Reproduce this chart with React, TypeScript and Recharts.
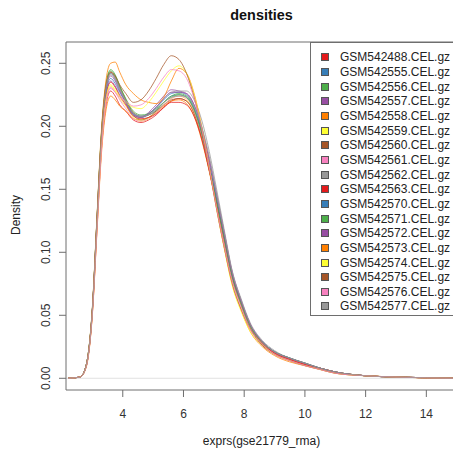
import { CartesianGrid, Legend, Line, LineChart, ReferenceLine, XAxis, YAxis } from "recharts";

const xs = [2.2, 2.6, 2.8, 3.0, 3.15, 3.3, 3.45, 3.6, 3.75, 3.9, 4.1, 4.35, 4.6, 4.85, 5.1, 5.35, 5.6, 5.85, 6.1, 6.35, 6.6, 6.85, 7.1, 7.35, 7.6, 7.9, 8.2, 8.6, 9.0, 9.5, 10, 10.5, 11, 12, 13, 14, 15];

const sampleNames = [
  "GSM542488.CEL.gz", "GSM542555.CEL.gz", "GSM542556.CEL.gz", "GSM542557.CEL.gz", "GSM542558.CEL.gz", "GSM542559.CEL.gz",
  "GSM542560.CEL.gz", "GSM542561.CEL.gz", "GSM542562.CEL.gz", "GSM542563.CEL.gz", "GSM542570.CEL.gz", "GSM542571.CEL.gz",
  "GSM542572.CEL.gz", "GSM542573.CEL.gz", "GSM542574.CEL.gz", "GSM542575.CEL.gz", "GSM542576.CEL.gz", "GSM542577.CEL.gz",
];

const palette = ["#E41A1C", "#377EB8", "#4DAF4A", "#984EA3", "#FF7F00", "#FFFF33", "#A65628", "#F781BF", "#999999"];

const d488 = [0, .001, .010, .052, .118, .182, .217, .228, .224, .217, .212, .205, .203, .205, .209, .215, .220, .222, .220, .211, .192, .167, .139, .110, .082, .060, .041, .028, .020, .015, .011, .008, .005, .002, .001, .0004, 0];
const d555 = [0, .001, .011, .055, .125, .193, .231, .242, .238, .230, .220, .210, .207, .209, .213, .219, .224, .225, .223, .213, .194, .168, .140, .111, .082, .060, .042, .029, .021, .016, .012, .008, .005, .002, .001, .0004, 0];
const d556 = [0, .001, .011, .056, .127, .196, .234, .245, .241, .232, .221, .209, .205, .207, .212, .219, .224, .226, .224, .214, .195, .169, .140, .111, .082, .060, .042, .029, .021, .016, .012, .008, .005, .002, .001, .0004, 0];
const d557 = [0, .001, .010, .054, .122, .188, .225, .236, .232, .225, .218, .209, .207, .211, .217, .224, .229, .228, .226, .217, .199, .174, .145, .115, .085, .062, .043, .029, .021, .016, .012, .008, .005, .002, .001, .0004, 0];
const d558 = [0, .001, .009, .051, .116, .179, .213, .224, .221, .216, .212, .206, .205, .207, .211, .216, .220, .221, .218, .208, .189, .164, .136, .107, .079, .058, .040, .027, .020, .015, .011, .008, .005, .002, .001, .0004, 0];
const d559 = [0, .001, .010, .053, .120, .185, .221, .232, .228, .222, .216, .207, .204, .206, .211, .217, .222, .224, .221, .211, .191, .165, .136, .107, .079, .058, .041, .028, .021, .016, .012, .008, .005, .002, .001, .0004, 0];
const d560 = [0, .001, .011, .055, .126, .194, .232, .243, .239, .231, .221, .211, .208, .209, .212, .217, .221, .222, .220, .210, .191, .165, .137, .108, .080, .058, .040, .027, .020, .015, .011, .008, .005, .002, .001, .0004, 0];
const d561 = [0, .001, .010, .053, .119, .184, .220, .231, .227, .221, .214, .206, .204, .206, .211, .217, .222, .224, .222, .212, .192, .166, .137, .108, .080, .059, .041, .028, .020, .015, .011, .008, .005, .002, .001, .0004, 0];
const d562 = [0, .001, .010, .055, .125, .192, .230, .241, .237, .229, .219, .209, .207, .210, .215, .222, .227, .228, .228, .221, .205, .180, .149, .117, .086, .063, .044, .030, .022, .016, .012, .008, .005, .002, .001, .0004, 0];
const d563 = [0, .001, .010, .054, .122, .188, .224, .235, .231, .224, .217, .208, .206, .207, .210, .215, .219, .219, .217, .208, .190, .165, .138, .110, .082, .060, .042, .028, .020, .015, .011, .008, .005, .002, .001, .0004, 0];
const d570 = [0, .001, .010, .054, .123, .190, .227, .238, .234, .227, .219, .210, .208, .210, .215, .221, .226, .227, .225, .215, .196, .170, .141, .111, .082, .060, .042, .029, .021, .016, .012, .008, .005, .002, .001, .0004, 0];
const d571 = [0, .001, .011, .056, .126, .195, .233, .244, .240, .232, .222, .212, .209, .210, .214, .219, .223, .225, .223, .213, .194, .168, .139, .110, .081, .059, .041, .028, .021, .016, .012, .008, .005, .002, .001, .0004, 0];
const d572 = [0, .001, .010, .055, .124, .192, .229, .240, .236, .228, .219, .209, .207, .210, .215, .222, .227, .227, .226, .217, .198, .173, .144, .114, .084, .061, .043, .029, .021, .016, .012, .008, .005, .002, .001, .0004, 0];
const d573 = [0, .001, .011, .057, .128, .198, .237, .250, .251, .243, .233, .226, .221, .219, .218, .223, .236, .246, .242, .226, .200, .168, .134, .103, .075, .054, .037, .025, .018, .013, .010, .007, .004, .002, .001, .0003, 0];
const d574 = [0, .001, .010, .053, .121, .186, .222, .233, .229, .224, .219, .215, .214, .219, .227, .236, .244, .248, .242, .225, .199, .167, .133, .102, .074, .053, .037, .026, .019, .014, .010, .007, .004, .002, .001, .0003, 0];
const d575 = [0, .001, .011, .055, .126, .194, .232, .243, .240, .233, .226, .219, .221, .228, .238, .249, .256, .253, .242, .223, .197, .166, .133, .103, .076, .055, .039, .026, .019, .014, .010, .007, .004, .002, .001, .0003, 0];
const d576 = [0, .001, .010, .052, .119, .183, .219, .230, .227, .223, .220, .216, .217, .222, .230, .239, .245, .244, .238, .222, .198, .167, .134, .104, .077, .056, .039, .027, .019, .014, .010, .007, .004, .002, .001, .0003, 0];
const d577 = [0, .001, .011, .055, .125, .193, .231, .242, .238, .230, .220, .210, .208, .209, .213, .219, .223, .224, .224, .216, .200, .176, .146, .115, .085, .062, .043, .029, .021, .016, .012, .008, .005, .002, .001, .0004, 0];

const densities = [d488, d555, d556, d557, d558, d559, d560, d561, d562, d563, d570, d571, d572, d573, d574, d575, d576, d577];

const xTicks = [4, 6, 8, 10, 12, 14];
const yTicks = [0, 0.05, 0.1, 0.15, 0.2, 0.25];

const X_DOMAIN: [number, number] = [2.13, 15.01];
const Y_DOMAIN: [number, number] = [-0.0093, 0.2669];

const font = '"Liberation Sans", Arial, Helvetica, sans-serif';
const boxColor = "#6e6e6e";

const rows = xs.map((x, i) => {
  const row: Record<string, number> = { x };
  densities.forEach((d, s) => {
    row[sampleNames[s]] = d[i];
  });
  return row;
});

function XTick({ x, y, payload }: any) {
  return (
    <text x={x} y={y} dy="0.71em" textAnchor="middle" fontSize={12} fill="#333" fontFamily={font}>
      {payload.value}
    </text>
  );
}

function YTick({ x, y, payload }: any) {
  return (
    <text x={x} y={y} transform={`rotate(-90 ${x} ${y})`} textAnchor="middle" fontSize={12} fill="#333" fontFamily={font}>
      {Number(payload.value).toFixed(2)}
    </text>
  );
}

function SampleLegend() {
  return (
    <div
      style={{
        boxSizing: "border-box",
        width: 147,
        height: 274,
        border: `1px solid ${boxColor}`,
        background: "#fff",
        paddingTop: 7,
        fontFamily: font,
        fontSize: 12,
        color: "#222",
      }}
    >
      {sampleNames.map((name, i) => (
        <div key={name} style={{ height: 14.67, display: "flex", alignItems: "center", whiteSpace: "nowrap" }}>
          <span
            style={{
              display: "inline-block",
              boxSizing: "border-box",
              width: 8,
              height: 8,
              marginLeft: 10,
              marginRight: 11,
              background: palette[i % palette.length],
              border: "1px solid #555",
            }}
          />
          <span>{name}</span>
        </div>
      ))}
    </div>
  );
}

export default function App() {
  return (
    <div style={{ position: "absolute", left: 0, top: 0, width: 453, height: 451, overflow: "hidden", background: "#fff" }}>
      <div style={{ position: "absolute", left: 0, top: 7, width: 523, textAlign: "center", fontFamily: font, fontSize: 14.4, fontWeight: "bold", color: "#111" }}>
        densities
      </div>
      <div style={{ position: "absolute", left: 0, top: 434, width: 523, textAlign: "center", fontFamily: font, fontSize: 12, color: "#222" }}>
        exprs(gse21779_rma)
      </div>
      <div
        style={{
          position: "absolute",
          left: 16 - 50,
          top: 216 - 8,
          width: 100,
          textAlign: "center",
          fontFamily: font,
          fontSize: 12,
          color: "#222",
          transform: "rotate(-90deg)",
        }}
      >
        Density
      </div>
      <LineChart width={470} height={451} data={rows} margin={{ top: 42, right: 13, bottom: 31, left: 0 }}>
        <CartesianGrid stroke="none" />
        <XAxis
          type="number"
          dataKey="x"
          domain={X_DOMAIN}
          ticks={xTicks}
          allowDataOverflow
          height={30}
          tickSize={7}
          tickMargin={12}
          tick={<XTick />}
          axisLine={{ stroke: boxColor }}
          tickLine={{ stroke: boxColor }}
        />
        <YAxis
          type="number"
          domain={Y_DOMAIN}
          ticks={yTicks}
          allowDataOverflow
          width={66}
          tickSize={7}
          tickMargin={9}
          tick={<YTick />}
          axisLine={{ stroke: boxColor }}
          tickLine={{ stroke: boxColor }}
        />
        <ReferenceLine y={Y_DOMAIN[1]} stroke={boxColor} />
        <ReferenceLine y={0} stroke="#cfcfcf" strokeWidth={0.6} />
        {sampleNames.map((name, i) => (
          <Line
            key={name}
            type="monotone"
            dataKey={name}
            stroke={palette[i % palette.length]}
            strokeWidth={1}
            strokeOpacity={0.75}
            dot={false}
            activeDot={false}
            isAnimationActive={false}
          />
        ))}
        <Legend
          layout="vertical"
          align="center"
          verticalAlign="middle"
          content={<SampleLegend />}
          wrapperStyle={{ position: "absolute", left: 310, top: 42, width: 147, height: 274 }}
        />
      </LineChart>
    </div>
  );
}
